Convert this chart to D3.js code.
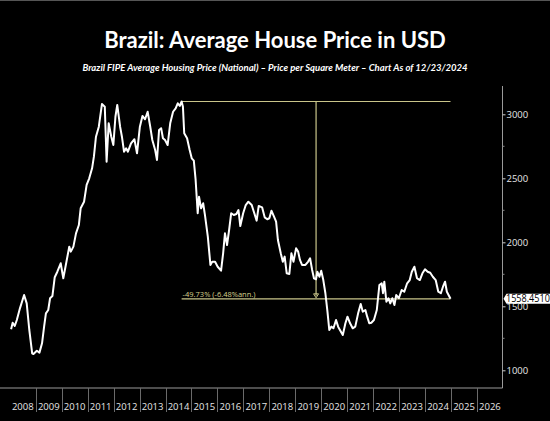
<!DOCTYPE html>
<html>
<head>
<meta charset="utf-8">
<script src="https://cdn.jsdelivr.net/npm/d3@7"></script>
<style>
  html, body { margin: 0; padding: 0; background: #000; }
  svg { display: block; }
</style>
</head>
<body>
<script>
// 日付(年の小数表記)と価格 USD/m2
const dates = [
  2008.05, 2008.11, 2008.19, 2008.27, 2008.39, 2008.55, 2008.65, 2008.75, 2008.86, 2008.91,
  2009.04, 2009.14, 2009.24, 2009.32, 2009.39, 2009.48, 2009.55, 2009.64, 2009.73, 2009.83,
  2009.96, 2010.06, 2010.17, 2010.29, 2010.35, 2010.45, 2010.55, 2010.66, 2010.73, 2010.86,
  2010.96, 2011.06, 2011.17, 2011.24, 2011.32, 2011.43, 2011.55, 2011.66, 2011.73, 2011.81,
  2011.91, 2011.99, 2012.07, 2012.14, 2012.25, 2012.32, 2012.40, 2012.48, 2012.55, 2012.67,
  2012.80, 2012.90, 2013.01, 2013.11, 2013.21, 2013.31, 2013.41, 2013.49, 2013.60, 2013.67,
  2013.75, 2013.83, 2013.90, 2013.98, 2014.08, 2014.18, 2014.29, 2014.39, 2014.47, 2014.55,
  2014.62, 2014.67, 2014.72, 2014.83, 2014.93, 2015.01, 2015.09, 2015.16, 2015.24, 2015.29,
  2015.37, 2015.45, 2015.52, 2015.63, 2015.73, 2015.80, 2015.91, 2016.01, 2016.14, 2016.22,
  2016.29, 2016.37, 2016.45, 2016.53, 2016.63, 2016.73, 2016.81, 2016.88, 2016.99, 2017.09,
  2017.19, 2017.32, 2017.38, 2017.51, 2017.59, 2017.72, 2017.82, 2017.92, 2018.00, 2018.08,
  2018.18, 2018.26, 2018.33, 2018.44, 2018.52, 2018.59, 2018.67, 2018.77, 2018.85, 2018.93,
  2019.03, 2019.11, 2019.18, 2019.26, 2019.39, 2019.49, 2019.57, 2019.65, 2019.72, 2019.80,
  2019.85, 2019.93, 2020.00, 2020.08, 2020.16, 2020.24, 2020.31, 2020.39, 2020.47, 2020.57,
  2020.65, 2020.72, 2020.83, 2020.93, 2021.01, 2021.11, 2021.21, 2021.31, 2021.42, 2021.52,
  2021.60, 2021.70, 2021.77, 2021.85, 2021.93, 2022.03, 2022.14, 2022.24, 2022.33, 2022.38,
  2022.43, 2022.51, 2022.59, 2022.66, 2022.74, 2022.82, 2022.89, 2022.99, 2023.10, 2023.20,
  2023.31, 2023.41, 2023.49, 2023.59, 2023.69, 2023.80, 2023.90, 2024.00, 2024.10, 2024.20,
  2024.30, 2024.41, 2024.51, 2024.61, 2024.69, 2024.77, 2024.84, 2024.98
];
const prices = [
  1320, 1372, 1346, 1393, 1484, 1588, 1523, 1315, 1133, 1127,
  1153, 1138, 1211, 1341, 1445, 1471, 1563, 1580, 1727, 1770,
  1836, 1719, 1836, 1966, 1927, 1966, 2070, 2135, 2266, 2317,
  2448, 2500, 2578, 2669, 2825, 2903, 3080, 3059, 2630, 2930,
  2825, 2760, 2981, 3073, 2903, 2825, 2708, 2734, 2708, 2773,
  2805, 2695, 2903, 2987, 2961, 3020, 2903, 2799, 2721, 2643,
  2877, 2891, 2813, 2799, 2760, 2930, 3020, 3047, 3086, 3065,
  3100, 3059, 2852, 2813, 2721, 2656, 2638, 2487, 2227, 2356,
  2266, 2305, 2213, 2044, 1823, 1848, 1848, 1809, 1778, 1914,
  2070, 1979, 2096, 2227, 2213, 2221, 2252, 2127, 2227, 2291,
  2317, 2291, 2252, 2169, 2284, 2273, 2195, 2180, 2188, 2247,
  2200, 2161, 2018, 1914, 1848, 1888, 1758, 1752, 1914, 1848,
  1953, 1927, 1862, 1823, 1823, 1848, 1875, 1784, 1719, 1711,
  1770, 1731, 1778, 1705, 1602, 1458, 1315, 1341, 1328, 1393,
  1341, 1315, 1276, 1367, 1419, 1367, 1328, 1341, 1445, 1518,
  1458, 1471, 1419, 1367, 1372, 1393, 1471, 1666, 1680, 1602,
  1692, 1536, 1563, 1523, 1563, 1510, 1588, 1563, 1627, 1614,
  1680, 1705, 1770, 1809, 1719, 1705, 1758, 1789, 1770, 1762,
  1731, 1705, 1614, 1602, 1653, 1692, 1614, 1558.45105
];
const yearLabels = d3.range(2008, 2027);
const majorTicks = [1000, 1500, 2000, 2500, 3000];
const minorTicks = [1250, 1750, 2250, 2750];

const width = 550;
const height = 421;
const lineColor = '#c9c58a';

function toDate(t) {
  const yr = Math.floor(t);
  const a = new Date(yr, 0, 1), b = new Date(yr + 1, 0, 1);
  return new Date(+a + (t - yr) * (b - a));
}
const series = dates.map((t, i) => ({ date: toDate(t), value: prices[i] }));

const svg = d3.select('body').append('svg')
  .attr('width', width)
  .attr('height', height);

svg.append('rect')
  .attr('width', width).attr('height', height)
  .attr('fill', '#000');
svg.append('line')
  .attr('x1', 0).attr('x2', width).attr('y1', 0.5).attr('y2', 0.5)
  .attr('stroke', '#555');

// タイトル
svg.append('text')
  .attr('x', 275).attr('y', 48)
  .attr('text-anchor', 'middle')
  .attr('fill', '#fff')
  .style('font-family', 'Lato, "Open Sans", sans-serif')
  .style('font-weight', 'bold')
  .style('font-size', '22px')
  .text('Brazil: Average House Price in USD');

svg.append('text')
  .attr('x', 275).attr('y', 71)
  .attr('text-anchor', 'middle')
  .attr('fill', '#fff')
  .style('font-family', 'Lato, "Open Sans", sans-serif')
  .style('font-weight', 'bold')
  .style('font-style', 'italic')
  .style('font-size', '9.5px')
  .text('Brazil FIPE Average Housing Price (National) \u2013 Price per Square Meter \u2013 Chart As of 12/23/2024');

const x = d3.scaleTime()
  .domain([new Date(2008, 0, 1), new Date(2027, 0, 1)])
  .range([9.8, 502.9]);
const y = d3.scaleLinear()
  .domain([1000, 3000])
  .range([370.3, 114.3]);

const axisX = 502.5;
const axisBottom = 388;

// 軸
svg.append('line')
  .attr('x1', axisX).attr('x2', axisX).attr('y1', 86).attr('y2', axisBottom)
  .attr('stroke', '#9a9a9a').attr('stroke-width', 1);
svg.append('line')
  .attr('x1', 0).attr('x2', axisX).attr('y1', axisBottom).attr('y2', axisBottom)
  .attr('stroke', '#9a9a9a').attr('stroke-width', 1);

const yAxis = svg.append('g')
  .attr('transform', `translate(${axisX},0)`)
  .call(d3.axisRight(y).tickValues(majorTicks).tickSize(3).tickPadding(1).tickFormat(d3.format('d')));
yAxis.select('.domain').remove();
yAxis.selectAll('line').attr('stroke', '#ccc');
yAxis.selectAll('text')
  .attr('fill', '#e6e6e6')
  .style('font-family', '"Open Sans", sans-serif')
  .style('font-size', '9.5px');

svg.append('g').selectAll('line')
  .data(minorTicks)
  .join('line')
  .attr('x1', axisX).attr('x2', axisX + 2)
  .attr('y1', d => y(d)).attr('y2', d => y(d))
  .attr('stroke', '#888');

// 年の区切り
svg.append('g').selectAll('line')
  .data(yearLabels.slice(1))
  .join('line')
  .attr('x1', d => Math.round(x(new Date(d, 0, 1))) + 0.5)
  .attr('x2', d => Math.round(x(new Date(d, 0, 1))) + 0.5)
  .attr('y1', axisBottom).attr('y2', 412)
  .attr('stroke', '#6a6a6a');

svg.append('g').selectAll('text')
  .data(yearLabels)
  .join('text')
  .attr('x', d => (x(new Date(d, 0, 1)) + x(new Date(d + 1, 0, 1))) / 2)
  .attr('y', 409.5)
  .attr('text-anchor', 'middle')
  .attr('fill', '#e6e6e6')
  .style('font-family', '"Open Sans", sans-serif')
  .style('font-size', '9.5px')
  .text(d => d);

// ピークと現在値の比較線
const peak = series.reduce((a, b) => (b.value > a.value ? b : a));
const last = series[series.length - 1];
const midDate = new Date((+peak.date + +last.date) / 2);

svg.append('line')
  .attr('x1', x(peak.date)).attr('x2', x(last.date))
  .attr('y1', y(peak.value)).attr('y2', y(peak.value))
  .attr('stroke', lineColor).attr('stroke-width', 1.2);
svg.append('line')
  .attr('x1', x(peak.date)).attr('x2', x(last.date))
  .attr('y1', y(last.value)).attr('y2', y(last.value))
  .attr('stroke', lineColor).attr('stroke-width', 1.2);
svg.append('line')
  .attr('x1', x(midDate)).attr('x2', x(midDate))
  .attr('y1', y(peak.value)).attr('y2', y(last.value) - 3)
  .attr('stroke', lineColor).attr('stroke-width', 1.2);
const ax = x(midDate), ay = y(last.value);
svg.append('path')
  .attr('d', `M${ax - 2.5},${ay - 5}L${ax + 2.5},${ay - 5}L${ax},${ay - 1}Z`)
  .attr('fill', 'none')
  .attr('stroke', lineColor).attr('stroke-width', 1);

svg.append('text')
  .attr('x', x(peak.date) + 1).attr('y', y(last.value) - 2)
  .attr('fill', '#d6d08e')
  .style('font-family', '"Open Sans", sans-serif')
  .style('font-size', '7.5px')
  .text('-49.73% (-6.48%ann.)');

// 価格の線
const line = d3.line()
  .x(d => x(d.date))
  .y(d => y(d.value));

svg.append('path')
  .datum(series)
  .attr('d', line)
  .attr('fill', 'none')
  .attr('stroke', '#fff')
  .attr('stroke-width', 2)
  .attr('stroke-linejoin', 'round');

// 最新値ラベル(右端で切れる)
const ly = y(last.value);
svg.append('path')
  .attr('d', `M${axisX + 1},${ly} L${axisX + 4},${ly - 5} L${width},${ly - 5} L${width},${ly + 5} L${axisX + 4},${ly + 5} Z`)
  .attr('fill', '#fff');
svg.append('text')
  .attr('x', axisX + 3.5).attr('y', ly + 3.5)
  .attr('fill', '#000')
  .attr('textLength', 49)
  .attr('lengthAdjust', 'spacingAndGlyphs')
  .style('font-family', '"Open Sans", sans-serif')
  .style('font-size', '10px')
  .text(d3.format('.5f')(last.value));
</script>
</body>
</html>
